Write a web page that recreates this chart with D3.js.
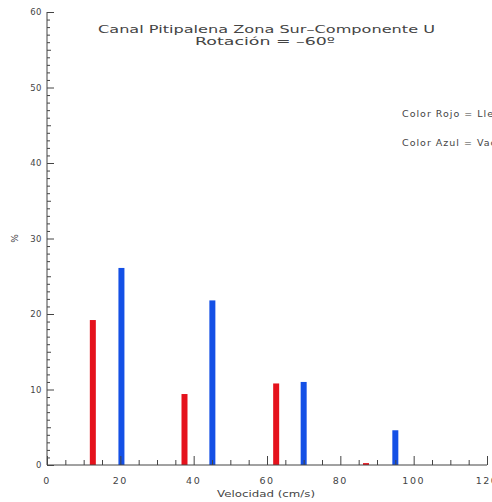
<!DOCTYPE html>
<html><head><meta charset="utf-8">
<script src="https://cdn.jsdelivr.net/npm/d3@7"></script>
<style>html,body{margin:0;padding:0;background:#fff;overflow:hidden}</style>
</head><body>
<svg id="c" width="492" height="502"></svg>
<script>
const redX = [12.5, 37.5, 62.5, 87.0];
const redV = [19.2, 9.4, 10.8, 0.25];
const blueX = [20.3, 45.1, 70.0, 95.0];
const blueV = [26.1, 21.8, 11.0, 4.6];
const xTicks = [0, 20, 40, 60, 80, 100, 120];
const yTicks = [0, 10, 20, 30, 40, 50, 60];
const title1 = "Canal Pitipalena Zona Sur\u2013Componente U";
const title2 = "Rotación = \u201360\u00ba";
const legend = ["Color Rojo = Llenante", "Color Azul = Vaciante"];
const xLabel = "Velocidad (cm/s)";
const yLabel = "%";

const svg = d3.select("#c");
const x = d3.scaleLinear().domain([0, 120]).range([47, 487]);
const y = d3.scaleLinear().domain([0, 60]).range([465, 12]);
const font = "DejaVu Sans";
const col = "#444";

// bars
const bw = 6;
svg.selectAll(".r").data(redX).enter().append("rect")
  .attr("x", d => x(d) - bw/2).attr("width", bw)
  .attr("y", (d,i) => y(redV[i])).attr("height", (d,i) => y(0) - y(redV[i]))
  .attr("fill", "#e5121c");
svg.selectAll(".b").data(blueX).enter().append("rect")
  .attr("x", d => x(d) - bw/2).attr("width", bw)
  .attr("y", (d,i) => y(blueV[i])).attr("height", (d,i) => y(0) - y(blueV[i]))
  .attr("fill", "#1450e6");

// x axis
const xa = svg.append("g").attr("transform", `translate(0,${y(0)})`)
  .call(d3.axisTop(x).tickValues(d3.range(0, 121, 5)).tickSize(5).tickFormat(""));
xa.selectAll("line").attr("stroke", col);
xa.selectAll("line").filter(d => d % 20 === 0).attr("y2", -9);
xa.select(".domain").attr("stroke", col).attr("d", `M${x(0)},0H${x(120)}`);
svg.selectAll(".xt").data(xTicks).enter().append("text")
  .attr("x", d => x(d)).attr("y", 484).attr("text-anchor", "middle")
  .attr("font-family", font).attr("font-size", 9.5).attr("letter-spacing", 1.5)
  .attr("fill", col).text(d => d);

// y axis
const ya = svg.append("g").attr("transform", `translate(${x(0)},0)`)
  .call(d3.axisRight(y).tickValues(d3.range(0, 61, 1)).tickSize(3).tickFormat(""));
ya.selectAll("line").attr("stroke", col);
ya.selectAll("line").filter(d => d % 10 === 0).attr("x2", 7);
ya.selectAll("line").filter(d => d % 5 === 0 && d % 10 !== 0).attr("x2", 4);
ya.select(".domain").attr("stroke", col).attr("d", `M0,${y(0)}V${y(60)}`);
svg.selectAll(".yt").data(yTicks).enter().append("text")
  .attr("x", 42).attr("y", d => y(d) + 3).attr("text-anchor", "end")
  .attr("font-family", font).attr("font-size", 8.5).attr("letter-spacing", 0.5)
  .attr("fill", col).text(d => d);

// titles
svg.append("text").attr("x", 98).attr("y", 33)
  .attr("textLength", 337).attr("lengthAdjust", "spacingAndGlyphs")
  .attr("font-family", font).attr("font-size", 11).attr("fill", col).text(title1);
svg.append("text").attr("x", 195).attr("y", 45)
  .attr("textLength", 140).attr("lengthAdjust", "spacingAndGlyphs")
  .attr("font-family", font).attr("font-size", 11).attr("fill", col).text(title2);

// legend
legend.forEach((t, i) => {
  svg.append("text").attr("x", 402).attr("y", 117 + i * 29)
    .attr("font-family", font).attr("font-size", 9.5).attr("letter-spacing", 1)
    .attr("fill", col).text(t);
});

// axis labels
svg.append("text").attr("x", 217).attr("y", 497)
  .attr("textLength", 98).attr("lengthAdjust", "spacingAndGlyphs")
  .attr("font-family", font).attr("font-size", 9.5).attr("fill", col).text(xLabel);
svg.append("text").attr("transform", `translate(15,${y(30)}) rotate(-90)`)
  .attr("text-anchor", "middle").attr("dy", "0.35em")
  .attr("font-family", font).attr("font-size", 9).attr("fill", col).text(yLabel);
</script>
</body></html>
